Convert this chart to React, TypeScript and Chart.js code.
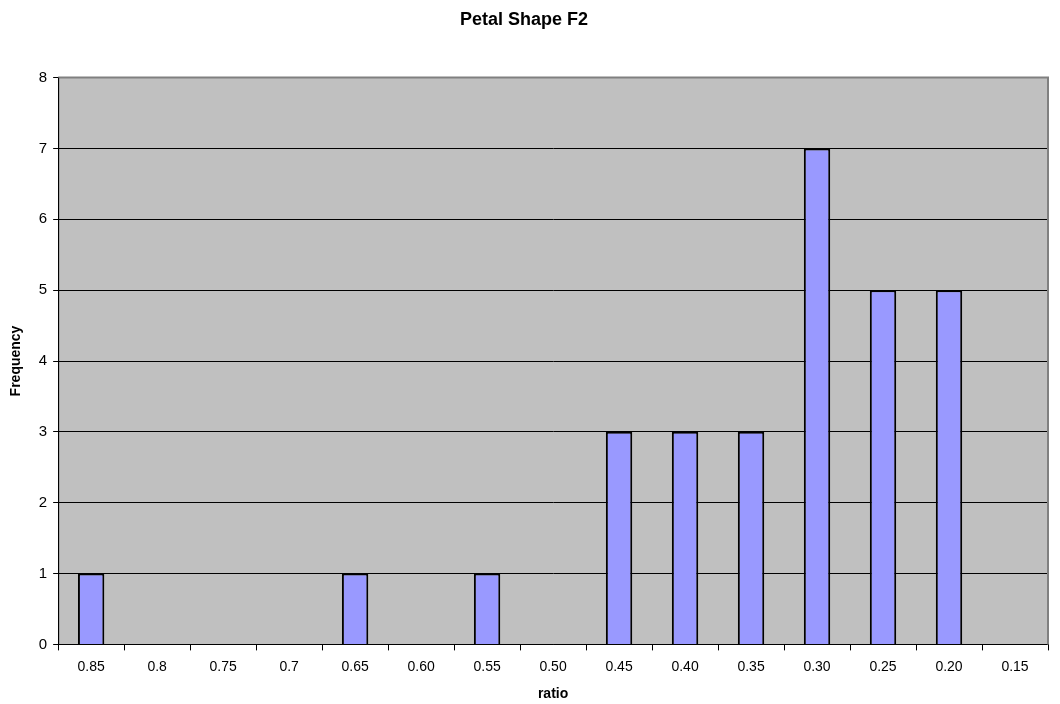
import React, { useEffect, useRef } from "react";
import { Chart, registerables } from "chart.js";

Chart.register(...registerables);

const categories = ["0.85", "0.8", "0.75", "0.7", "0.65", "0.60", "0.55", "0.50", "0.45", "0.40", "0.35", "0.30", "0.25", "0.20", "0.15"];
const frequency = [1, 0, 0, 0, 1, 0, 1, 0, 3, 3, 3, 7, 5, 5, 0];
const yMin = 0;
const yMax = 8;

const FONT = "Liberation Sans, Arial, sans-serif";

const plotBg = {
  id: "plotBg",
  beforeDraw(chart: any) {
    const { ctx, chartArea } = chart;
    if (!chartArea) return;
    ctx.save();
    ctx.fillStyle = "#C0C0C0";
    ctx.fillRect(chartArea.left, chartArea.top, chartArea.right - chartArea.left, chartArea.bottom - chartArea.top);
    ctx.restore();
  },
  afterDraw(chart: any) {
    const { ctx, chartArea } = chart;
    ctx.save();
    ctx.strokeStyle = "#808080";
    ctx.lineWidth = 2;
    ctx.beginPath();
    ctx.moveTo(chartArea.left, chartArea.top);
    ctx.lineTo(chartArea.right, chartArea.top);
    ctx.lineTo(chartArea.right, chartArea.bottom);
    ctx.stroke();
    ctx.strokeStyle = "#000";
    ctx.lineWidth = 1;
    ctx.beginPath();
    ctx.moveTo(chartArea.left + 0.5, chartArea.top);
    ctx.lineTo(chartArea.left + 0.5, chartArea.bottom);
    ctx.stroke();
    ctx.restore();
  },
};

export default function App() {
  const ref = useRef<HTMLCanvasElement>(null);
  useEffect(() => {
    if (!ref.current) return;
    const chart = new Chart(ref.current, {
      type: "bar",
      data: {
        labels: categories,
        datasets: [
          {
            label: "Frequency",
            data: frequency,
            backgroundColor: "#9999FF",
            borderColor: "#000000",
            borderWidth: 2,
            barPercentage: 0.4,
            categoryPercentage: 1,
          },
        ],
      },
      options: {
        animation: false,
        responsive: false,
        layout: { padding: { left: 0, right: 12, top: 0, bottom: 1 } },
        plugins: {
          legend: { display: false },
          tooltip: { enabled: false },
          title: {
            display: true,
            text: "Petal Shape F2",
            color: "#000",
            font: { family: FONT, size: 18, weight: "bold" },
            padding: { top: 9, bottom: 47 },
          },
        },
        scales: {
          x: {
            offset: true,
            grid: { display: true, drawOnChartArea: false, drawTicks: true, tickLength: 6, color: "#000", offset: true },
            border: { display: true, color: "#000", width: 1 },
            ticks: { color: "#000", font: { family: FONT, size: 14 }, padding: 8, maxRotation: 0, autoSkip: false },
            title: {
              display: true,
              text: "ratio",
              color: "#000",
              font: { family: FONT, size: 14, weight: "bold" },
              padding: { top: 3, bottom: 0 },
            },
          },
          y: {
            min: yMin,
            max: yMax,
            grid: {
              color: (c: any) => (c.tick && c.tick.value === yMax ? "rgba(0,0,0,0)" : "#000"),
              tickColor: "#000",
              tickLength: 5,
              drawTicks: true,
            },
            border: { display: true, color: "#000", width: 1 },
            ticks: { stepSize: 1, color: "#000", font: { family: FONT, size: 15 }, padding: 6 },
            title: {
              display: true,
              text: "Frequency",
              color: "#000",
              font: { family: FONT, size: 14, weight: "bold" },
              padding: { top: 8, bottom: 8 },
            },
          },
        },
      },
      plugins: [plotBg],
    });
    return () => chart.destroy();
  }, []);
  return (
    <div style={{ position: "fixed", left: 0, top: 0, width: 1060, height: 704, background: "#fff" }}>
      <canvas ref={ref} width={1060} height={704} style={{ width: 1060, height: 704 }} />
    </div>
  );
}
